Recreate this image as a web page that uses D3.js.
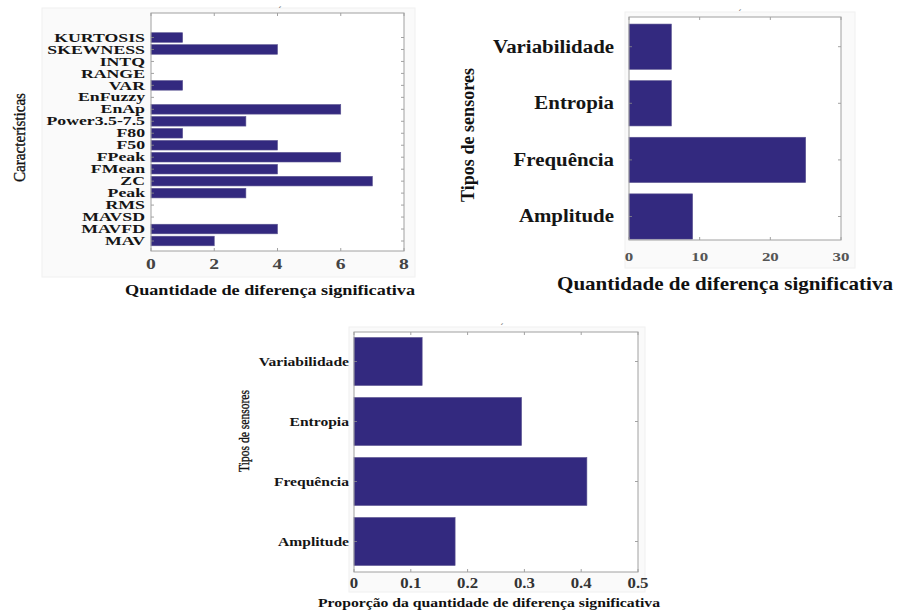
<!DOCTYPE html>
<html>
<head>
<meta charset="utf-8">
<script src="https://cdn.jsdelivr.net/npm/d3@7"></script>
<style>
  html, body { margin: 0; padding: 0; background: #ffffff; }
  svg { display: block; }
  text { font-family: "Liberation Serif", "Times New Roman", serif; }
</style>
</head>
<body>
<svg id="fig" width="897" height="612"></svg>
<script>
// Features, bottom to top (horizontal bar order)
const featureNames = ["MAV", "MAVFD", "MAVSD", "RMS", "Peak", "ZC", "FMean", "FPeak",
  "F50", "F80", "Power3.5-7.5", "EnAp", "EnFuzzy", "VAR", "RANGE", "INTQ", "SKEWNESS", "KURTOSIS"];
const featureCounts = [2, 4, 0, 0, 3, 7, 4, 6, 4, 1, 3, 6, 0, 1, 0, 0, 4, 1];
const featureTicks = [0, 2, 4, 6, 8];

// Sensor types, bottom to top
const sensorTypes = ["Amplitude", "Frequência", "Entropia", "Variabilidade"];
const sensorCounts = [9, 25, 6, 6];
const sensorTicks = [0, 10, 20, 30];

const sensorProportions = [0.178, 0.41, 0.295, 0.12];
const proportionTicks = [0, 0.1, 0.2, 0.3, 0.4, 0.5];

const xTitleCount = "Quantidade de diferença significativa";
const xTitleProp = "Proporção da quantidade de diferença significativa";

const BAR = "#33297f";
const svg = d3.select("#fig");

function panel(o) {
  const g = svg.append("g");
  // faint figure background
  g.append("rect").attr("x", o.bg[0]).attr("y", o.bg[1])
    .attr("width", o.bg[2] - o.bg[0]).attr("height", o.bg[3] - o.bg[1])
    .attr("fill", "#fafafa").attr("stroke", "#f0f0f0");
  // axes area
  g.append("rect").attr("x", o.left).attr("y", o.top)
    .attr("width", o.right - o.left).attr("height", o.bottom - o.top)
    .attr("fill", "#ffffff");

  const x = d3.scaleLinear().domain(o.xDomain).range([o.left, o.right]);
  const y = d3.scaleLinear().domain([1, o.cats.length]).range(o.yRange);
  const step = Math.abs(y(2) - y(1));
  const bh = step * 0.8;

  // bars
  g.selectAll("rect.bar").data(o.vals).join("rect")
    .attr("class", "bar")
    .attr("x", x(0))
    .attr("y", (d, i) => y(i + 1) - bh / 2)
    .attr("width", d => Math.max(0, x(d) - x(0)))
    .attr("height", bh)
    .attr("fill", BAR)
    .attr("stroke", d => d > 0 ? "#5a5390" : "none")
    .attr("stroke-width", 0.6);

  // inward ticks on all four sides
  const tl = 3;
  const tick = (x1, y1, x2, y2) => g.append("line")
    .attr("x1", x1).attr("y1", y1).attr("x2", x2).attr("y2", y2)
    .attr("stroke", "#8a8a8a").attr("stroke-width", 0.8);
  o.ticks.forEach(t => {
    tick(x(t), o.bottom, x(t), o.bottom - tl);
    tick(x(t), o.top, x(t), o.top + tl);
  });
  o.cats.forEach((c, i) => {
    tick(o.left, y(i + 1), o.left + tl, y(i + 1));
    tick(o.right, y(i + 1), o.right - tl, y(i + 1));
  });

  // frame
  g.append("rect").attr("x", o.left).attr("y", o.top)
    .attr("width", o.right - o.left).attr("height", o.bottom - o.top)
    .attr("fill", "none").attr("stroke", "#a0a0a0").attr("stroke-width", 1);

  // category labels
  g.selectAll("text.cat").data(o.cats).join("text")
    .attr("class", "cat")
    .attr("transform", (d, i) => `translate(${o.labelX},${y(i + 1) + o.catFs * 0.33}) scale(${o.sx},1)`)
    .attr("text-anchor", "end")
    .attr("font-size", o.catFs).attr("font-weight", "bold").attr("fill", "#151515")
    .text(d => d);

  // tick labels
  g.selectAll("text.tl").data(o.ticks).join("text")
    .attr("class", "tl")
    .attr("transform", d => `translate(${x(d)},${o.tickY}) scale(${o.tickSx},1)`)
    .attr("text-anchor", "middle")
    .attr("font-size", o.tickFs).attr("font-weight", "bold").attr("fill", o.tickFill)
    .text(d => d);

  // x title
  g.append("text")
    .attr("x", o.xTitle.cx - o.xTitle.len / 2).attr("y", o.xTitle.y)
    .attr("textLength", o.xTitle.len).attr("lengthAdjust", "spacingAndGlyphs")
    .attr("font-size", o.xTitle.fs).attr("font-weight", "bold").attr("fill", "#111")
    .text(o.xTitle.text);

  // y title
  g.append("text")
    .attr("transform", `translate(${o.yTitle.x},${o.yTitle.cy + o.yTitle.len / 2}) rotate(-90)`)
    .attr("textLength", o.yTitle.len).attr("lengthAdjust", "spacingAndGlyphs")
    .attr("font-size", o.yTitle.fs).attr("font-weight", o.yTitle.weight).attr("fill", "#111")
    .attr("stroke", o.yTitle.weight === "normal" ? "#111" : "none")
    .attr("stroke-width", 0.35)
    .text(o.yTitle.text);

  // small title mark above the axes
  g.append("text")
    .attr("x", o.mark[0]).attr("y", o.mark[1])
    .attr("font-size", 10).attr("fill", "#555").attr("text-anchor", "middle")
    .text("´");
}

panel({
  bg: [42, 8, 415, 277],
  left: 151, right: 404, top: 13, bottom: 251,
  xDomain: [0, 8], yRange: [241, 37.5],
  cats: featureNames, vals: featureCounts, ticks: featureTicks,
  labelX: 145, catFs: 12.5, sx: 1.42,
  tickY: 269, tickFs: 14, tickSx: 1.4, tickFill: "#444",
  xTitle: { text: xTitleCount, cx: 270, y: 295, len: 290, fs: 14 },
  yTitle: { text: "Características", x: 25, cy: 137.5, len: 89, fs: 16.5, weight: "normal" },
  mark: [280, 14]
});

panel({
  bg: [625, 12, 855, 268],
  left: 629, right: 841, top: 17, bottom: 240,
  xDomain: [0, 30], yRange: [216.5, 46.7],
  cats: sensorTypes, vals: sensorCounts, ticks: sensorTicks,
  labelX: 614, catFs: 18, sx: 1.16,
  tickY: 261, tickFs: 13, tickSx: 1.3, tickFill: "#555",
  xTitle: { text: xTitleCount, cx: 725, y: 290, len: 336, fs: 19 },
  yTitle: { text: "Tipos de sensores", x: 474, cy: 135, len: 134, fs: 19, weight: "bold" },
  mark: [740, 17]
});

panel({
  bg: [349, 327, 645, 592],
  left: 354, right: 638, top: 332, bottom: 572,
  xDomain: [0, 0.5], yRange: [541.5, 361.5],
  cats: sensorTypes, vals: sensorProportions, ticks: proportionTicks,
  labelX: 349, catFs: 13, sx: 1.2,
  tickY: 588, tickFs: 14, tickSx: 1.2, tickFill: "#333",
  xTitle: { text: xTitleProp, cx: 489, y: 607, len: 342, fs: 12.5 },
  yTitle: { text: "Tipos de sensores", x: 249, cy: 431, len: 82, fs: 15.5, weight: "normal" },
  mark: [502, 331]
});
</script>
</body>
</html>
